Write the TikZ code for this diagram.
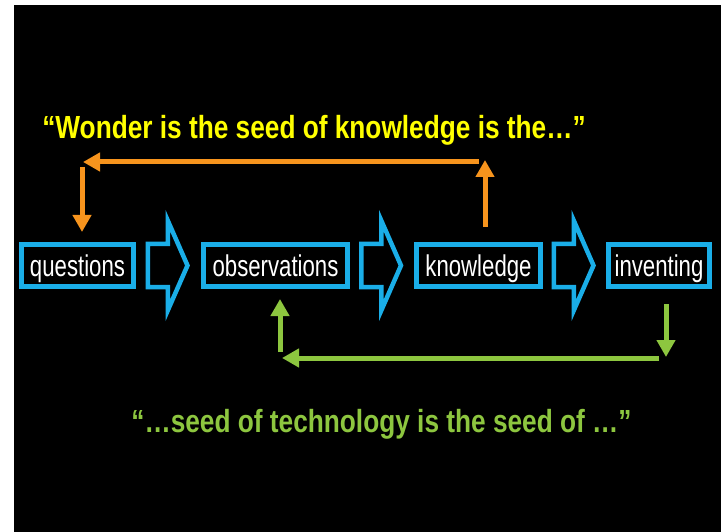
\documentclass[tikz,border=0pt]{standalone}
\usepackage{fontspec}
\usetikzlibrary{arrows.meta,calc}
\newfontfamily\boxfont[FakeStretch=0.74]{Liberation Sans}
\newfontfamily\quotefont[FakeStretch=0.82]{Liberation Sans}
\definecolor{flowblue}{RGB}{26,174,232}
\definecolor{flowyellow}{RGB}{255,255,0}
\definecolor{floworange}{RGB}{247,148,29}
\definecolor{flowgreen}{RGB}{141,198,63}

\begin{document}
\begin{tikzpicture}[x=1pt,y=-1pt,
  stage/.style={draw=flowblue,line width=5pt,text=white,inner sep=0pt,minimum height=42pt,
    text height=22pt,text depth=0pt,font=\boxfont\fontsize{30}{34}\selectfont},
  loopline/.style={line width=5pt,-{Triangle[length=17pt,width=18pt]}},
  quote/.style={anchor=base,font=\quotefont\bfseries\fontsize{32}{36}\selectfont},
  flowarrow/.pic={\draw[flowblue,line width=4.5pt,line join=miter]
    (-20.75,-21.5) -- (-0.75,-21.5) -- (-0.75,-45) -- (19,0) -- (-0.75,45) -- (-0.75,21.5) -- (-20.75,21.5) -- cycle;}]
  % slide background
  \fill[white] (0,0) rectangle (721,532);
  \fill[black] (14,5) rectangle (721,532);
  % the four stages
  \node[stage,minimum width=112pt] (questions) at (77.5,265.5) {questions};
  \node[stage,minimum width=144pt] (observations) at (275.5,265.5) {observations};
  \node[stage,minimum width=124pt] (knowledge) at (478.5,265.5) {knowledge};
  \node[stage,minimum width=101pt] (inventing) at (659,265.5) {inventing};
  \pic at ($(questions.east)!0.5!(observations.west)$) {flowarrow};
  \pic at ($(observations.east)!0.5!(knowledge.west)$) {flowarrow};
  \pic at ($(knowledge.east)!0.5!(inventing.west)$) {flowarrow};
  % quotes
  \node[quote,text=flowyellow] (wonder) at (314,139) {“Wonder is the seed of knowledge is the…”};
  \node[quote,text=flowgreen] (seed) at (381.5,432) {“…seed of technology is the seed of …”};
  % orange loop
  \coordinate (orange1) at ($(knowledge.north)+(6.5,-15)$);
  \coordinate (orange2) at (485,160);
  \coordinate (orange3) at (479,162);
  \coordinate (orange4) at (83,162);
  \coordinate (orange5) at (82,167);
  \coordinate (orange6) at ($(questions.north)+(4.5,-10)$);
  \draw[loopline,floworange] (orange1) -- (orange2);
  \draw[loopline,floworange] (orange3) -- (orange4);
  \draw[loopline,floworange] (orange5) -- (orange6);
  % green loop
  \coordinate (green1) at ($(inventing.south)+(7,15)$);
  \coordinate (green2) at (666,357);
  \coordinate (green3) at (659,358);
  \coordinate (green4) at (282,358);
  \coordinate (green5) at (280,352);
  \coordinate (green6) at ($(observations.south)+(4.5,10)$);
  \draw[loopline,flowgreen] (green1) -- (green2);
  \draw[loopline,flowgreen] (green3) -- (green4);
  \draw[loopline,flowgreen] (green5) -- (green6);
\end{tikzpicture}
\end{document}
